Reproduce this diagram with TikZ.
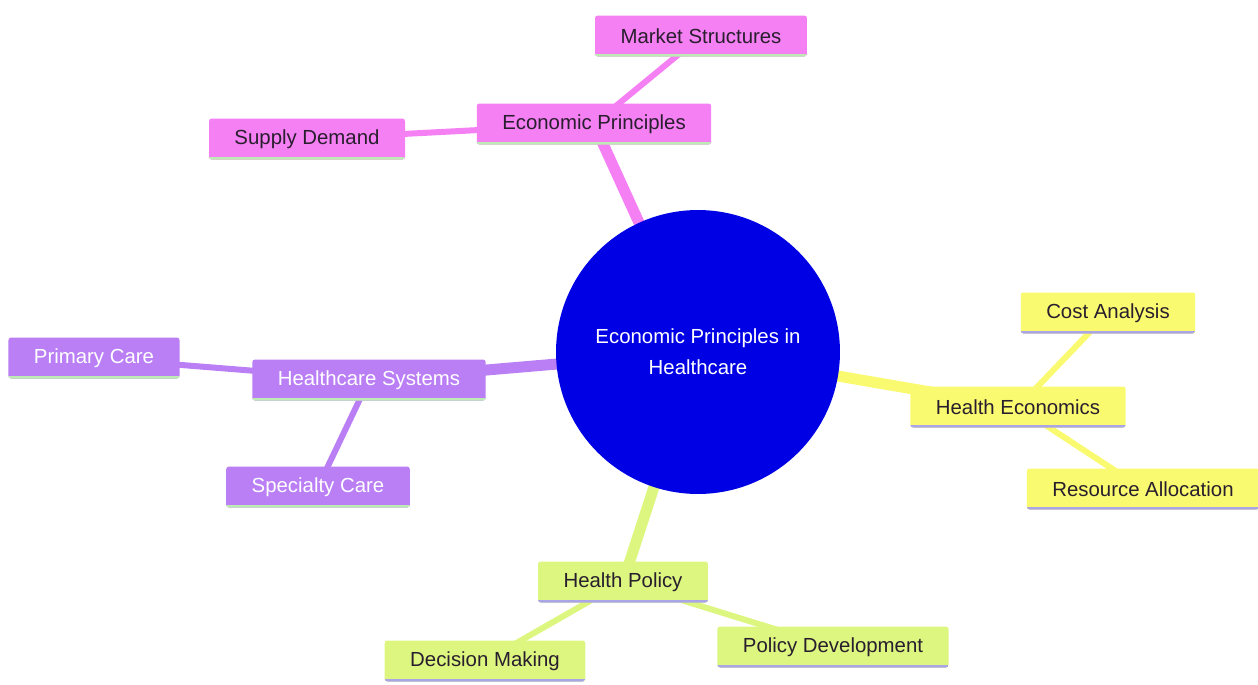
\documentclass[tikz,border=0pt]{standalone}
\usepackage{fontspec}
\setmainfont{Liberation Sans}
\usetikzlibrary{backgrounds}
\definecolor{rootblue}{RGB}{0,0,228}
\definecolor{pinkfill}{RGB}{245,128,243}
\definecolor{purplefill}{RGB}{186,126,245}
\definecolor{yellowfill}{RGB}{250,250,112}
\definecolor{greenfill}{RGB}{220,246,128}
\definecolor{greenline}{RGB}{190,235,180}
\definecolor{lavline}{RGB}{170,165,230}
\definecolor{darktext}{RGB}{40,30,45}

\tikzset{
    topic/.style={rectangle, rounded corners=1.5pt, minimum height=0.82cm,
        inner xsep=0.51cm, inner ysep=0pt, font=\fontsize{11.6}{14}\selectfont,
        path picture={\draw[line width=3.4pt, #1]
            (path picture bounding box.south west) -- (path picture bounding box.south east);}},
    pinkbox/.style={topic=greenline, fill=pinkfill, text=darktext},
    purplebox/.style={topic=greenline, fill=purplefill, text=white},
    yellowbox/.style={topic=lavline, fill=yellowfill, text=darktext},
    greenbox/.style={topic=lavline, fill=greenfill, text=darktext},
    mainedge/.style={line width=0.22cm, draw=#1},
    subedge/.style={line width=0.12cm, draw=#1},
}

\begin{document}
\begin{tikzpicture}[x=0.02cm, y=-0.02cm]
    \useasboundingbox (0,0) rectangle (1258,684);

    \node[circle, fill=rootblue, text=white, minimum size=5.68cm, inner sep=0pt,
        align=center, font=\fontsize{11.6}{17.6}\selectfont] (root) at (698,352)
        {Economic Principles in\\Healthcare};

    % economic principles branch
    \node[pinkbox] (econ) at (594,124) {Economic Principles};
    \node[pinkbox] (market) at (701,36) {Market Structures};
    \node[pinkbox] (supply) at (307,139) {Supply Demand};

    % health economics branch
    \node[yellowbox] (heco) at (1018,407) {Health Economics};
    \node[yellowbox] (cost) at (1108,313) {Cost Analysis};
    \node[yellowbox] (resource) at (1143,489) {Resource Allocation};

    % health policy branch
    \node[greenbox] (policy) at (623,582) {Health Policy};
    \node[greenbox] (decision) at (485,661) {Decision Making};
    \node[greenbox] (develop) at (833,647) {Policy Development};

    % healthcare systems branch
    \node[purplebox] (systems) at (369,380) {Healthcare Systems};
    \node[purplebox] (primary) at (94,358) {Primary Care};
    \node[purplebox] (special) at (318,487) {Specialty Care};

    \begin{scope}[on background layer]
        \draw[mainedge=pinkfill] (root.center) -- (econ.center);
        \draw[subedge=pinkfill] (econ.center) -- (market.center);
        \draw[subedge=pinkfill] (econ.center) -- (supply.center);
        \draw[mainedge=yellowfill] (root.center) -- (heco.center);
        \draw[subedge=yellowfill] (heco.center) -- (cost.center);
        \draw[subedge=yellowfill] (heco.center) -- (resource.center);
        \draw[mainedge=greenfill] (root.center) -- (policy.center);
        \draw[subedge=greenfill] (policy.center) -- (decision.center);
        \draw[subedge=greenfill] (policy.center) -- (develop.center);
        \draw[mainedge=purplefill] (root.center) -- (systems.center);
        \draw[subedge=purplefill] (systems.center) -- (primary.center);
        \draw[subedge=purplefill] (systems.center) -- (special.center);
    \end{scope}
\end{tikzpicture}
\end{document}
